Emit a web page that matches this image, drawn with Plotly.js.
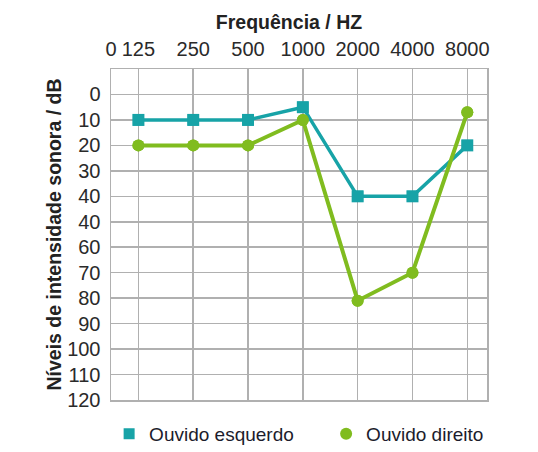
<!DOCTYPE html>
<html>
<head>
<meta charset="utf-8">
<script src="https://cdn.plot.ly/plotly-3.0.1.min.js"></script>
<style>html,body{margin:0;padding:0;background:#fff;}#chart{width:538px;height:452px;}</style>
</head>
<body>
<div id="chart"></div>
<script>
// Data
var frequencies = ["125", "250", "500", "1000", "2000", "4000", "8000"];
var leftEar = [10, 10, 10, 5, 40, 40, 20];      // Ouvido esquerdo
var rightEar = [20, 20, 20, 10, 81, 70, 7];     // Ouvido direito
var xTickLabels = ["0", "125", "250", "500", "1000", "2000", "4000", "8000"];
var yTickValues = [0, 10, 20, 30, 40, 50, 60, 70, 80, 90, 100, 110, 120];
var yTickLabels = ["0", "10", "20", "30", "40", "40", "60", "70", "80", "90", "100", "110", "120"];

var xIdx = frequencies.map(function (_, i) { return i; });
var xTickVals = [-0.5].concat(xIdx);

var teal = "#17a3a7";
var green = "#80bc1f";
var tickFont = {family: "Liberation Sans, Arial, sans-serif", size: 20, color: "#2a2a2a"};
var boldFont = {family: "Liberation Sans, Arial, sans-serif", size: 19.5, color: "#222", weight: "bold"};

var traces = [
  {x: xIdx, y: leftEar, mode: "lines+markers", showlegend: false, hoverinfo: "skip",
   line: {color: teal, width: 3.5}, marker: {symbol: "square", size: 12, color: teal}},
  {x: xIdx, y: rightEar, mode: "lines+markers", showlegend: false, hoverinfo: "skip",
   line: {color: green, width: 4}, marker: {symbol: "circle", size: 12, color: green}},
  {x: xIdx, y: leftEar, mode: "markers", name: "Ouvido esquerdo",
   marker: {symbol: "square", size: 11, color: teal}},
  {x: xIdx, y: rightEar, mode: "markers", name: "Ouvido direito",
   marker: {symbol: "circle", size: 12, color: green}}
];

var layout = {
  width: 538, height: 452,
  margin: {l: 111, r: 51, t: 69, b: 52, pad: 0, autoexpand: false},
  paper_bgcolor: "#ffffff", plot_bgcolor: "#ffffff",
  title: {text: "Frequência / HZ", xref: "container", yref: "container",
          x: 289 / 538, xanchor: "center", y: 1 - 22 / 452, yanchor: "middle",
          font: boldFont},
  xaxis: {
    side: "top", range: [-0.5, 6.36], tickmode: "array", automargin: false,
    tickvals: xTickVals, ticktext: xTickLabels, tickfont: tickFont,
    showgrid: true, gridcolor: "#b0b0b0", gridwidth: 1.5,
    showline: true, mirror: true, linecolor: "#b0b0b0", linewidth: 1.5,
    ticks: "", ticklabelstandoff: 4, zeroline: false, fixedrange: true
  },
  yaxis: {
    range: [120, -10], tickmode: "array", automargin: false,
    tickvals: yTickValues, ticktext: yTickLabels, tickfont: tickFont,
    showgrid: true, gridcolor: "#b0b0b0", gridwidth: 1.5,
    showline: true, mirror: true, linecolor: "#b0b0b0", linewidth: 1.5,
    ticks: "", ticklabelstandoff: 5, zeroline: false, fixedrange: true,
    title: {text: "Níveis de intensidade sonora / dB", standoff: 0, font: boldFont}
  },
  legend: {
    orientation: "h", x: -0.005, xanchor: "left", y: -0.045, yanchor: "top",
    entrywidth: 172, entrywidthmode: "pixels",
    font: {family: "Liberation Sans, Arial, sans-serif", size: 19, color: "#1c1c2c"},
    bgcolor: "rgba(0,0,0,0)"
  },
  showlegend: true
};

Plotly.newPlot("chart", traces, layout, {displayModeBar: false, staticPlot: true});
</script>
</body>
</html>
